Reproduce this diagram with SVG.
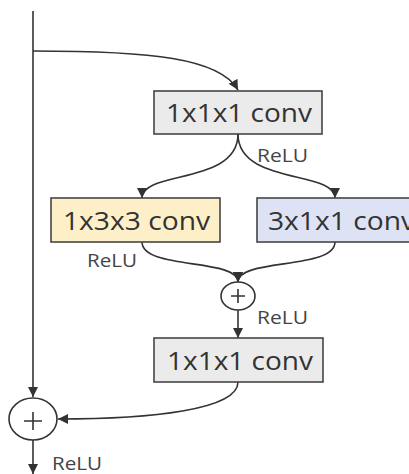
<svg xmlns="http://www.w3.org/2000/svg" width="409" height="474" viewBox="0 0 409 474">
<style>
.box{stroke:#454545;stroke-width:1.6}
.t{font-family:"Open Sans","Noto Sans",sans-serif;fill:#333;font-size:25px}
.r{font-family:"Open Sans","Noto Sans",sans-serif;fill:#444;font-size:18px}
.c{fill:none;stroke:#333;stroke-width:1.6}
.op{fill:#fff;stroke:#333;stroke-width:1.6}
</style>
<defs>
<marker id="ah" viewBox="0 0 10 10" refX="10" refY="5" markerWidth="10" markerHeight="10" markerUnits="userSpaceOnUse" orient="auto">
<path d="M0,0 L10,5 L0,10 Z" fill="#333"/>
</marker>
</defs>
<rect width="409" height="474" fill="#fff"/>
<g id="connectors">
<path class="c" d="M33,11 V397" marker-end="url(#ah)"/>
<path class="c" d="M33,51 C150,51 220,58 238,90" marker-end="url(#ah)"/>
<path class="c" d="M238,134 C238,185 142,170 142,198" marker-end="url(#ah)"/>
<path class="c" d="M238,134 C238,185 335,170 335,198" marker-end="url(#ah)"/>
<path class="c" d="M142,242 C142,270 238,258 238,282" marker-end="url(#ah)"/>
<path class="c" d="M335,242 C335,270 238,258 238,282" marker-end="url(#ah)"/>
<path class="c" d="M238,310 V338" marker-end="url(#ah)"/>
<path class="c" d="M238,382 C238,410 150,419 58,419" marker-end="url(#ah)"/>
<path class="c" d="M33,440 V474" marker-end="url(#ah)"/>
</g>
<g id="conv1">
<rect class="box" x="154" y="91" width="168" height="43" fill="#ebebeb"/>
<text class="t" x="166" y="122" textLength="146" lengthAdjust="spacingAndGlyphs">1x1x1 conv</text>
<text class="r" x="257" y="162" textLength="51" lengthAdjust="spacingAndGlyphs">ReLU</text>
</g>
<g id="conv133">
<rect class="box" x="51" y="198" width="169" height="44" fill="#fdf0c8"/>
<text class="t" x="63" y="230" textLength="147" lengthAdjust="spacingAndGlyphs">1x3x3 conv</text>
<text class="r" x="87" y="267" textLength="50" lengthAdjust="spacingAndGlyphs">ReLU</text>
</g>
<g id="conv311">
<rect class="box" x="257" y="198" width="175" height="44" fill="#dde3f4"/>
<text class="t" x="268" y="230" textLength="147" lengthAdjust="spacingAndGlyphs">3x1x1 conv</text>
</g>
<g id="add1">
<ellipse class="op" cx="238" cy="296" rx="17" ry="14"/>
<path class="c" d="M231,296 H245 M238,289 V303"/>
<text class="r" x="257" y="324" textLength="51" lengthAdjust="spacingAndGlyphs">ReLU</text>
</g>
<g id="conv2">
<rect class="box" x="154" y="338" width="169" height="44" fill="#ebebeb"/>
<text class="t" x="167" y="370" textLength="146" lengthAdjust="spacingAndGlyphs">1x1x1 conv</text>
</g>
<g id="add2">
<ellipse class="op" cx="33" cy="419" rx="24" ry="21"/>
<path class="c" d="M24,421 H42 M33,412 V430"/>
<text class="r" x="52" y="470" textLength="50" lengthAdjust="spacingAndGlyphs">ReLU</text>
</g>
</svg>
